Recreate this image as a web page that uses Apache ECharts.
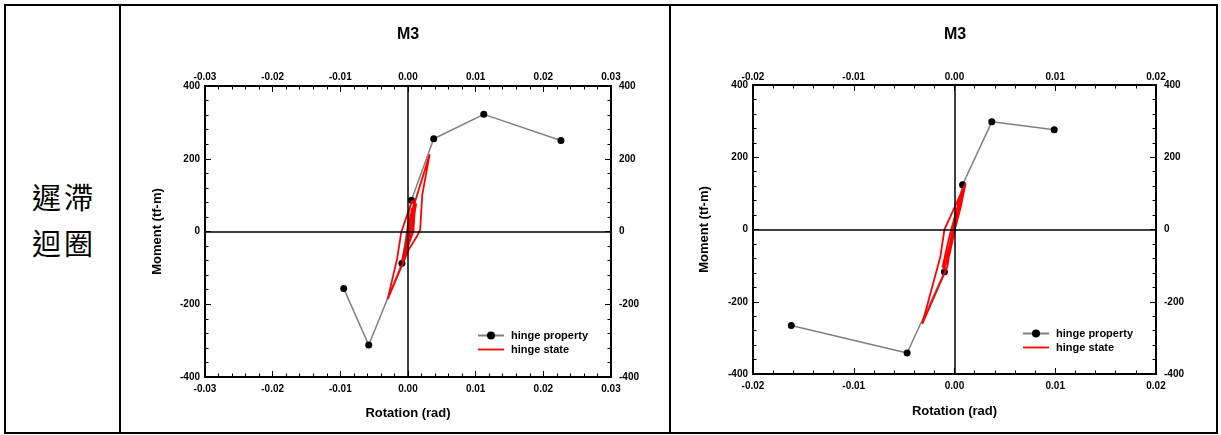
<!DOCTYPE html>
<html>
<head>
<meta charset="utf-8">
<script src="https://cdn.jsdelivr.net/npm/echarts@6/dist/echarts.min.js"></script>
<style>
html, body { margin: 0; padding: 0; background: #fff; }
#page { position: relative; width: 1221px; height: 435px; overflow: hidden; }
.frame { position: absolute; left: 4px; top: 4px; width: 1214px; height: 430px; box-sizing: border-box; border: 2px solid #000; }
.vline { position: absolute; top: 4px; width: 2px; height: 430px; background: #000; }
.rowname { position: absolute; left: 6px; width: 113px; top: 173px; box-sizing: border-box; padding-left: 3px;
  text-align: center; font-family: "Noto Sans CJK TC"; font-size: 29px; line-height: 46px; letter-spacing: 3px; color: #000; }
.chart { position: absolute; top: 0; height: 435px; }
</style>
</head>
<body>
<div id="page">
  <div class="frame"></div>
  <div class="vline" style="left:119px"></div>
  <div class="vline" style="left:669px"></div>
  <div class="rowname">遲滯<br>迴圈</div>
  <div id="c1" class="chart" style="left:121px;width:548px"></div>
  <div id="c2" class="chart" style="left:671px;width:546px"></div>
</div>
<script>
// 左圖 M3 (rotation rad, moment tf-m)
var xRange1 = [-0.03, 0.03]
var hingeProp1 = [[-0.0095, -157], [-0.0058, -312], [-0.0009, -87], [0.0005, 86], [0.0038, 255], [0.0112, 322], [0.0226, 250]]
var hingeState1 = [
  [0, 0], [0.0002, 28], [-0.0001, -20], [0.0004, 48], [-0.0003, -40],
  [0.0006, 65], [0.0004, 30], [-0.0005, -58], [-0.0007, -78], [0.0001, -5],
  [0.0008, 72], [0.0011, 70], [0.0006, -10], [-0.0006, -70], [-0.0002, -60],
  [0.0010, 60], [0.0008, 0], [-0.0007, -75], [0.0001, 20], [0.0009, 78],
  [0.0005, 5], [-0.0004, -48], [-0.0009, -82], [-0.0003, -30], [0.0004, 40], [0.0010, 80],
  [0.0032, 212], [0.0021, 100], [0.0018, 5], [0.0013, -14], [0.0001, -50],
  [-0.0024, -160], [-0.0030, -186], [-0.0016, -74], [-0.0010, -2], [0.0006, 85],
  [0.0012, 75], [0.0007, 20], [-0.0003, -45], [-0.0008, -80], [-0.0004, -40], [0.0003, 30],
  [0.0009, 65], [0.0004, 0], [-0.0005, -62], [0.0002, 10], [0.0007, 55]
]
// 右圖 M3
var xRange2 = [-0.02, 0.02]
var hingeProp2 = [[-0.0162, -266], [-0.0047, -342], [-0.0010, -117], [0.0008, 124], [0.0037, 298], [0.0099, 276]]
var hingeState2 = [
  [0, 0], [0.0003, 40], [-0.0002, -25], [0.0006, 75], [-0.0004, -55],
  [0.0008, 100], [0.0003, 30], [-0.0008, -90], [-0.0011, -112], [-0.0003, -20],
  [0.0009, 115], [0.0011, 128], [0.0006, 60], [-0.0004, -47], [-0.0007, -102],
  [-0.0020, -185], [-0.0032, -261], [-0.0014, -75], [-0.0010, 0], [-0.0004, 36],
  [0.0010, 122], [0.0004, 45], [-0.0005, -70], [-0.0012, -105], [-0.0006, -30],
  [0.0007, 105], [0.0002, 25], [-0.0009, -95], [-0.0002, -10], [0.0005, 70]
]
var yRange = [-400, 400]
var xStep = 0.01
var yStep = 200
var legendNames = ['hinge property', 'hinge state']

var FONT = '"Liberation Sans", Arial, sans-serif'

function buildOption(c) {
  var tickFont = { fontFamily: FONT, fontWeight: 'bold', fontSize: 10, color: '#000' }
  var fmtX = function (v) { return (Math.abs(v) < 1e-9 ? 0 : v).toFixed(2) }
  function xAxis(pos, margin, withName) {
    return {
      type: 'value', position: pos, min: c.xRange[0], max: c.xRange[1], interval: xStep,
      name: withName ? 'Rotation (rad)' : '', nameLocation: 'middle', nameGap: c.xNameGap,
      nameTextStyle: { fontFamily: FONT, fontWeight: 'bold', fontSize: 13, color: '#000' },
      axisLine: { onZero: false, lineStyle: { color: '#000', width: 2 } },
      axisTick: { inside: true, length: 6, lineStyle: { color: '#000', width: 1 } },
      minorTick: { show: true, splitNumber: 5, length: 3.5, lineStyle: { color: '#000', width: 1 } },
      axisLabel: Object.assign({ margin: margin, formatter: fmtX, showMinLabel: true, showMaxLabel: true }, tickFont),
      splitLine: { show: false }
    }
  }
  function yAxis(pos, margin, withName) {
    return {
      type: 'value', position: pos, min: yRange[0], max: yRange[1], interval: yStep,
      name: withName ? 'Moment (tf-m)' : '', nameLocation: 'middle', nameGap: c.yNameGap,
      nameTextStyle: { fontFamily: FONT, fontWeight: 'bold', fontSize: 13, color: '#000' },
      axisLine: { onZero: false, lineStyle: { color: '#000', width: 2 } },
      axisTick: { inside: true, length: 6, lineStyle: { color: '#000', width: 1 } },
      minorTick: { show: true, splitNumber: 5, length: 3.5, lineStyle: { color: '#000', width: 1 } },
      axisLabel: Object.assign({ margin: margin, showMinLabel: true, showMaxLabel: true }, tickFont),
      splitLine: { show: false }
    }
  }
  return {
    animation: false,
    title: {
      text: 'M3', left: c.titleLeft, top: 27, padding: 0,
      textStyle: { fontFamily: FONT, fontWeight: 'bold', fontSize: 16, color: '#000' }
    },
    legend: {
      orient: 'vertical', left: c.legendLeft, top: c.legendTop, itemWidth: 26, itemHeight: 10, itemGap: 3,
      selectedMode: false,
      // 紅線圖例只畫線，不畫圓點
      data: [{ name: legendNames[0] }, { name: legendNames[1], icon: 'path://M0,0M26,10M0,4.1h26v1.8h-26z' }],
      textStyle: { fontFamily: FONT, fontWeight: 'bold', fontSize: 11, color: '#000', padding: [0, 0, 0, 2] }
    },
    grid: { left: c.grid[0], top: c.grid[1], width: c.grid[2], height: c.grid[3] },
    xAxis: [xAxis('bottom', c.bottomMargin, true), xAxis('top', c.topMargin, false)],
    yAxis: [yAxis('left', 5, true), yAxis('right', 8, false)],
    series: [{
      name: legendNames[0], type: 'line', data: c.prop, xAxisIndex: 0, yAxisIndex: 0,
      symbol: 'circle', symbolSize: 7, showSymbol: true, z: 2,
      itemStyle: { color: '#000' },
      lineStyle: { color: '#808080', width: 1.5 },
      markLine: {
        silent: true, symbol: ['none', 'none'], label: { show: false }, animation: false,
        lineStyle: { color: '#000', width: 1.5, type: 'solid' },
        data: [{ xAxis: 0 }, { yAxis: 0 }]
      }
    }, {
      name: legendNames[1], type: 'line', data: c.state, xAxisIndex: 0, yAxisIndex: 0,
      symbol: 'none', z: 3,
      itemStyle: { color: '#ff0000' },
      lineStyle: { color: '#ff0000', width: 1.8 }
    }]
  }
}

var chart1 = echarts.init(document.getElementById('c1'))
chart1.setOption(buildOption({
  xRange: xRange1, prop: hingeProp1, state: hingeState1,
  grid: [84, 86, 406, 291], titleLeft: 276, legendLeft: 351, legendTop: 325,
  xNameGap: 30, yNameGap: 41, bottomMargin: 7, topMargin: 4
}))
var chart2 = echarts.init(document.getElementById('c2'))
chart2.setOption(buildOption({
  xRange: xRange2, prop: hingeProp2, state: hingeState2,
  grid: [82, 85, 403, 289], titleLeft: 273, legendLeft: 346, legendTop: 323,
  xNameGap: 31, yNameGap: 42, bottomMargin: 7, topMargin: 3
}))
</script>
</body>
</html>
